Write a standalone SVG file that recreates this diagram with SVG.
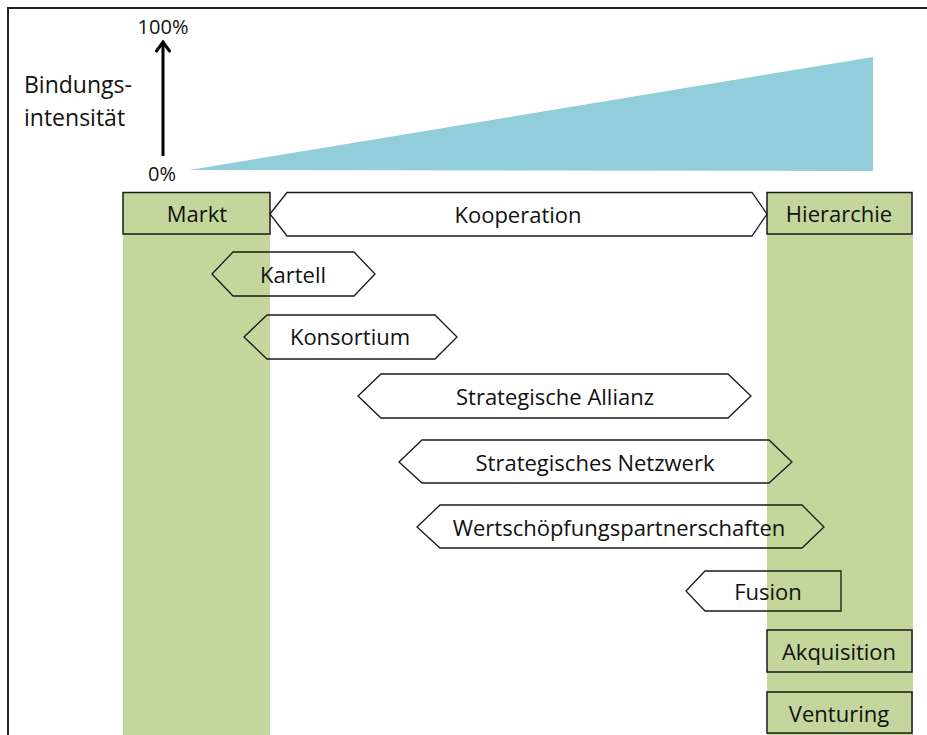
<svg xmlns="http://www.w3.org/2000/svg" width="927" height="735" viewBox="0 0 927 735">
  <style>
    text { font-family: "Open Sans", "Liberation Sans", sans-serif; fill: #111; }
    .lbl { font-size: 22px; text-anchor: middle; dominant-baseline: central; }
    .axis { font-size: 20px; }
    .col { fill: #C3D69B; }
    .box { fill: #C3D69B; stroke: #1a1a1a; stroke-width: 1.5; }
    .hex { fill: none; stroke: #1a1a1a; stroke-width: 1.3; stroke-linejoin: miter; }
  </style>

  <rect x="0" y="0" width="927" height="735" fill="#fff"/>
  <!-- outer frame -->
  <path d="M8,735 L8,8 L927,8" fill="none" stroke="#222" stroke-width="2"/>

  <!-- intensity axis -->
  <g id="axis">
    <line x1="163" y1="156" x2="163" y2="43" stroke="#000" stroke-width="3"/>
    <path d="M156.5,51 L163,42 L169.5,51" fill="none" stroke="#000" stroke-width="3" stroke-linecap="round" stroke-linejoin="miter"/>
    <text class="axis" x="163" y="34" text-anchor="middle">100%</text>
    <text class="axis" x="162" y="181" text-anchor="middle">0%</text>
    <text class="axis" x="24" y="93" style="font-size:23px">Bindungs-</text>
    <text class="axis" x="24" y="126" style="font-size:23px">intensität</text>
    <polygon points="189,170 873,57 873,171" fill="#92CDDC"/>
  </g>

  <!-- market / hierarchy columns -->
  <rect class="col" x="123" y="234" width="147" height="501"/>
  <rect class="col" x="767" y="234" width="146" height="501"/>

  <g id="markt">
    <rect class="box" x="123" y="192.5" width="147" height="41.5"/>
    <text class="lbl" x="197" y="213">Markt</text>
  </g>
  <g id="hierarchie">
    <rect class="box" x="767" y="192.5" width="145" height="41.5"/>
    <text class="lbl" x="839" y="213">Hierarchie</text>
  </g>

  <g id="kooperation">
    <polygon class="hex" points="270,214 287,192.5 752,192.5 767,214 752,236 287,236"/>
    <text class="lbl" x="518" y="214">Kooperation</text>
  </g>

  <g id="kartell">
    <polygon class="hex" points="212,274 233,252 354,252 375,274 354,296 233,296"/>
    <text class="lbl" x="293" y="274">Kartell</text>
  </g>

  <g id="konsortium">
    <polygon class="hex" points="244,337 267,315 435,315 457,337 435,359 267,359"/>
    <text class="lbl" x="350" y="336">Konsortium</text>
  </g>

  <g id="strategische-allianz">
    <polygon class="hex" points="358,396 381,374 728,374 751,396 728,418 381,418"/>
    <text class="lbl" x="555" y="396">Strategische Allianz</text>
  </g>

  <g id="strategisches-netzwerk">
    <polygon class="hex" points="399,462 422,440 769,440 792,462 769,483 422,483"/>
    <text class="lbl" x="595" y="462">Strategisches Netzwerk</text>
  </g>

  <g id="wertschoepfung">
    <polygon class="hex" points="417,527 440,505 802,505 824,527 802,548 440,548"/>
    <text class="lbl" x="619" y="527">Wertschöpfungspartnerschaften</text>
  </g>

  <g id="fusion">
    <polygon class="hex" points="686,591 705,571 841,571 841,611 705,611"/>
    <text class="lbl" x="768" y="591">Fusion</text>
  </g>

  <g id="akquisition">
    <rect class="box" x="767" y="630" width="145" height="42"/>
    <text class="lbl" x="839" y="651">Akquisition</text>
  </g>

  <g id="venturing">
    <rect class="box" x="767" y="692" width="145" height="41"/>
    <text class="lbl" x="839" y="713">Venturing</text>
  </g>

  <g id="connectors"/>
</svg>
